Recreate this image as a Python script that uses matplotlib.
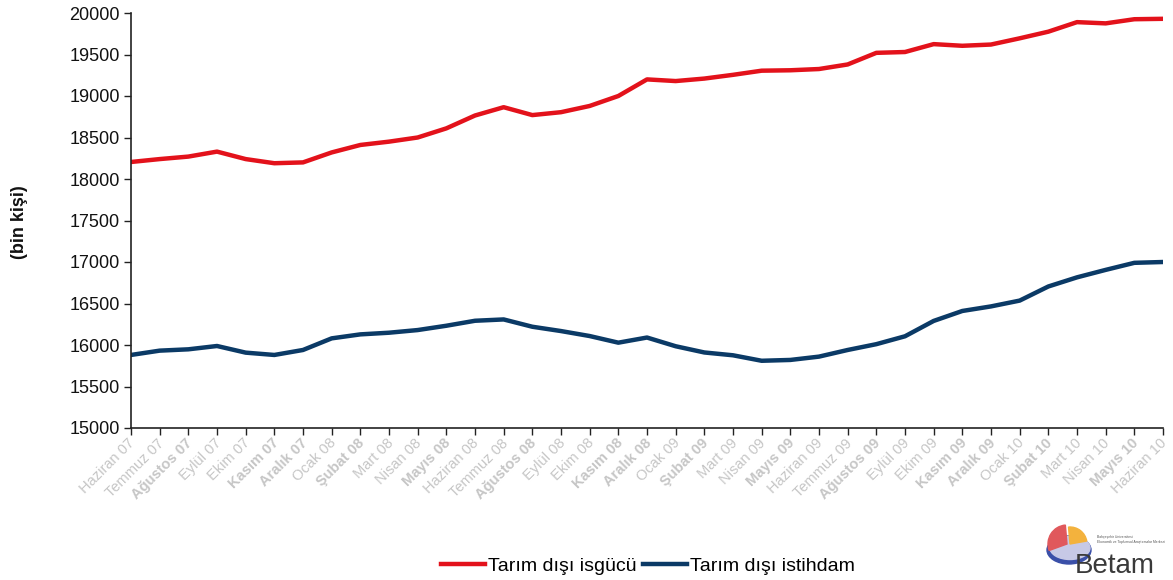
import matplotlib
matplotlib.use("Agg")
import matplotlib.pyplot as plt
from matplotlib.patches import Wedge, Ellipse
from matplotlib.lines import Line2D
from matplotlib.transforms import offset_copy

months = ["Haziran 07", "Temmuz 07", "Ağustos 07", "Eylül 07", "Ekim 07", "Kasım 07", "Aralık 07",
          "Ocak 08", "Şubat 08", "Mart 08", "Nisan 08", "Mayıs 08", "Haziran 08", "Temmuz 08",
          "Ağustos 08", "Eylül 08", "Ekim 08", "Kasım 08", "Aralık 08",
          "Ocak 09", "Şubat 09", "Mart 09", "Nisan 09", "Mayıs 09", "Haziran 09", "Temmuz 09",
          "Ağustos 09", "Eylül 09", "Ekim 09", "Kasım 09", "Aralık 09",
          "Ocak 10", "Şubat 10", "Mart 10", "Nisan 10", "Mayıs 10", "Haziran 10"]

isgucu = [18205, 18240, 18270, 18330, 18240, 18190, 18200, 18320, 18410, 18450, 18500,
          18610, 18765, 18865, 18770, 18805, 18880, 19000, 19200, 19180, 19210, 19255,
          19305, 19310, 19325, 19380, 19520, 19530, 19625, 19605, 19620, 19695, 19775,
          19890, 19875, 19925, 19930]

istihdam = [15880, 15932, 15948, 15988, 15908, 15880, 15940, 16080, 16128, 16148, 16180,
            16232, 16292, 16308, 16220, 16168, 16108, 16028, 16090, 15985, 15910, 15876,
            15810, 15820, 15860, 15940, 16010, 16105, 16290, 16410, 16465, 16535, 16705,
            16815, 16905, 16990, 17000]

yticks = list(range(15000, 20001, 500))

RED = "#e3121b"
NAVY = "#0b3a66"

plt.rcParams['font.family'] = ['Liberation Sans', 'DejaVu Sans']

fig = plt.figure(figsize=(11.73, 5.80), dpi=100)
ax = fig.add_axes([131/1173, 1-428/580, (1163-131)/1173, (428-13)/580])

x = list(range(len(months)))
ax.plot(x, isgucu, color=RED, lw=3.2, solid_joinstyle='round')
ax.plot(x, istihdam, color=NAVY, lw=3.2, solid_joinstyle='round')

ax.set_xlim(0, len(months)-1)
ax.set_ylim(15000, 20000)
ax.set_yticks(yticks)
ax.set_yticklabels([str(v) for v in yticks], fontsize=13, color="#111111")
ax.set_xticks(x)
ax.set_xticklabels([])

# rotated category labels, ending just below-left of each tick
xform = ax.get_xaxis_transform()
for i, m in enumerate(months):
    bold = any(c in m for c in "ğışŞ")
    tr = offset_copy(xform, fig=fig, x=-3, y=-8, units='dots')
    ax.text(i, 0, m, rotation=45, rotation_mode='anchor', ha='right', va='top',
            fontsize=10.5, color="#c6c6c6", fontweight='bold' if bold else 'normal',
            transform=tr, clip_on=False)

for s in ['top', 'right']:
    ax.spines[s].set_visible(False)
for s in ['left', 'bottom']:
    ax.spines[s].set_color('#222222')
    ax.spines[s].set_linewidth(1.2)
ax.tick_params(axis='y', direction='out', length=5, width=1, color='#222222', pad=3)
ax.tick_params(axis='x', direction='out', length=5, width=1, color='#222222')

fig.text(20/1173, 1-222/580, "(bin kişi)", rotation=90, ha='center', va='center',
         fontsize=13, fontweight='bold', color='#111111')

handles = [Line2D([], [], color=RED, lw=3.2), Line2D([], [], color=NAVY, lw=3.2)]
fig.legend(handles, ["Tarım dışı isgücü", "Tarım dışı istihdam"], loc='center',
           bbox_to_anchor=(648/1173, 1-566/580), ncol=2, frameon=False, fontsize=14,
           handlelength=2.3, handletextpad=0.15, columnspacing=0.3)

# Betam logo
lax = fig.add_axes([1045/1173, 1-578/580, 127/1173, 56/580])
lax.set_xlim(0, 127)
lax.set_ylim(0, 56)
lax.axis('off')
lax.add_patch(Ellipse((24, 28), 44, 28, color='#3a4fa8'))
lax.add_patch(Ellipse((25, 30), 40, 23, color='#c7c9e6'))
lax.add_patch(Wedge((22, 34), 19, 95, 200, color='#e0585c'))
lax.add_patch(Wedge((25, 34), 17, 10, 95, color='#f3b23d'))
lax.text(30, 5, "Betam", fontsize=20, color='#3a3a3a', va='baseline', ha='left')
lax.text(52, 40, "Bahçeşehir Üniversitesi", fontsize=2.4, color='#555555')
lax.text(52, 35, "Ekonomik ve Toplumsal Araştırmalar Merkezi", fontsize=2.4, color='#555555')

fig.savefig("out.png", dpi=100)
